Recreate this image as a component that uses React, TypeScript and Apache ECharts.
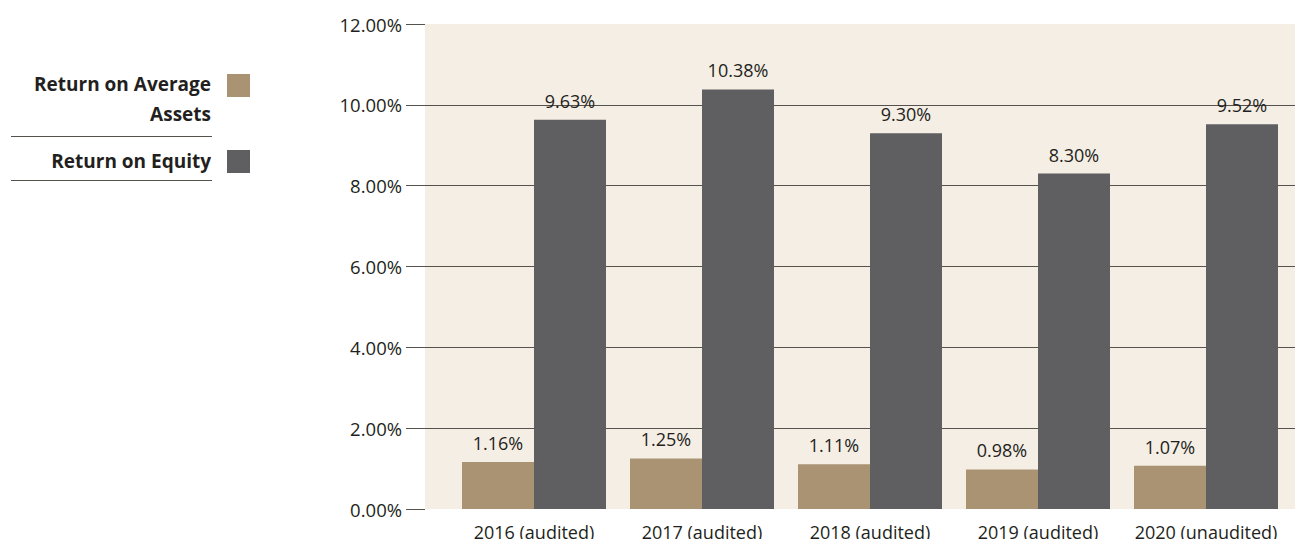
import React, { useEffect, useRef } from "react";
import * as echarts from "echarts";

const categories = [
  "2016 (audited)",
  "2017 (audited)",
  "2018 (audited)",
  "2019 (audited)",
  "2020 (unaudited)",
];
const roaa = [1.16, 1.25, 1.11, 0.98, 1.07];
const roe = [9.63, 10.38, 9.3, 8.3, 9.52];
const seriesNames = ["Return on Average Assets", "Return on Equity"];

const FONT = "'Open Sans', 'Noto Sans', sans-serif";
const BROWN = "#a99372";
const GRAY = "#5f5f61";
const BG = "#f5eee5";
const LINE = "#55524e";
const TEXT = "#231f20";

export default function App() {
  const ref = useRef<HTMLDivElement>(null);
  useEffect(() => {
    if (!ref.current) return;
    const chart = echarts.init(ref.current, undefined, { renderer: "svg" });
    const barLabel = {
      show: true,
      position: "top",
      distance: 10,
      color: TEXT,
      fontSize: 18,
      fontFamily: FONT,
      formatter: (p: any) => p.value.toFixed(2) + "%",
    };
    const option: any = {
      animation: false,
      textStyle: { fontFamily: FONT },
      grid: [
        {
          left: 425,
          right: 0,
          top: 24,
          bottom: 38,
          show: true,
          backgroundColor: BG,
          borderWidth: 0,
        },
        { left: 450, right: 13, top: 24, bottom: 38 },
      ],
      xAxis: [
        { type: "category", gridIndex: 0, show: false, data: categories },
        {
          type: "category",
          gridIndex: 1,
          data: categories,
          axisLine: { show: false },
          axisTick: { show: false },
          axisLabel: {
            color: TEXT,
            fontSize: 18,
            margin: 14,
            interval: 0,
            hideOverlap: false,
            fontFamily: FONT,
          },
        },
      ],
      yAxis: [
        {
          type: "value",
          gridIndex: 0,
          min: 0,
          max: 12,
          interval: 2,
          axisLine: { show: false },
          axisTick: { show: true, length: 19, lineStyle: { color: LINE, width: 1 } },
          axisLabel: {
            color: TEXT,
            fontSize: 18.5,
            margin: 23,
            fontFamily: FONT,
            formatter: (v: number) => v.toFixed(2) + "%",
          },
          splitLine: {
            show: true,
            showMinLine: false,
            showMaxLine: false,
            lineStyle: { color: LINE, width: 1 },
          },
        },
        {
          type: "value",
          gridIndex: 1,
          min: 0,
          max: 12,
          interval: 2,
          show: false,
          splitLine: { show: false },
        },
      ],
      series: [
        {
          name: seriesNames[0],
          type: "bar",
          xAxisIndex: 1,
          yAxisIndex: 1,
          data: roaa,
          barWidth: 72,
          barGap: "0%",
          itemStyle: { color: BROWN },
          label: barLabel,
        },
        {
          name: seriesNames[1],
          type: "bar",
          xAxisIndex: 1,
          yAxisIndex: 1,
          data: roe,
          barWidth: 72,
          barGap: "0%",
          itemStyle: { color: GRAY },
          label: barLabel,
        },
      ],
      graphic: [
        {
          type: "text",
          x: 211,
          y: 84,
          style: {
            text: "Return on Average",
            textAlign: "right",
            textVerticalAlign: "middle",
            fill: TEXT,
            font: `bold 19px ${FONT}`,
          },
        },
        {
          type: "text",
          x: 211,
          y: 114,
          style: {
            text: "Assets",
            textAlign: "right",
            textVerticalAlign: "middle",
            fill: TEXT,
            font: `bold 19px ${FONT}`,
          },
        },
        {
          type: "rect",
          shape: { x: 227, y: 74, width: 23, height: 23 },
          style: { fill: BROWN },
        },
        {
          type: "line",
          shape: { x1: 11, y1: 136.5, x2: 212, y2: 136.5 },
          style: { stroke: LINE, lineWidth: 1 },
        },
        {
          type: "text",
          x: 211,
          y: 161,
          style: {
            text: "Return on Equity",
            textAlign: "right",
            textVerticalAlign: "middle",
            fill: TEXT,
            font: `bold 19px ${FONT}`,
          },
        },
        {
          type: "rect",
          shape: { x: 227, y: 150, width: 23, height: 23 },
          style: { fill: GRAY },
        },
        {
          type: "line",
          shape: { x1: 11, y1: 180.5, x2: 212, y2: 180.5 },
          style: { stroke: LINE, lineWidth: 1 },
        },
      ],
    };
    chart.setOption(option);
    return () => chart.dispose();
  }, []);
  return <div ref={ref} style={{ width: 1303, height: 547, margin: -8 }} />;
}
